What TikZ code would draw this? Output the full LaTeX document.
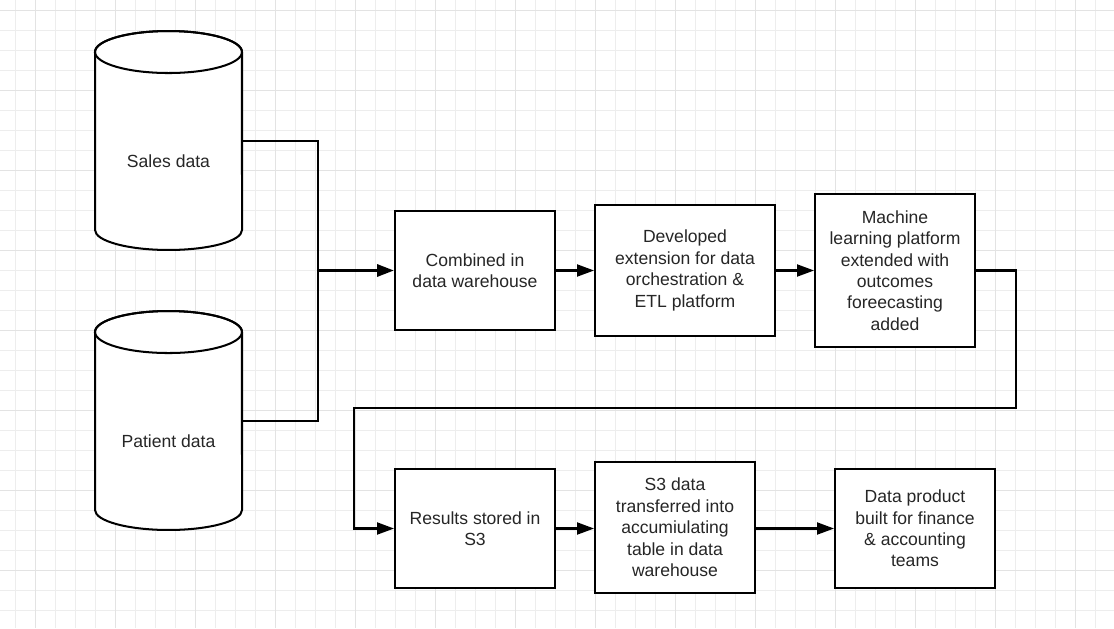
\documentclass[tikz,border=0pt]{standalone}
\usepackage{fontspec}
\setmainfont{Liberation Sans}
\usepackage{tikz}
\usetikzlibrary{arrows.meta,calc}

\tikzset{
  gridminor/.style={black!7, line width=0.5pt},
  gridmajor/.style={black!11, line width=0.5pt},
  edge/.style={line width=1.15pt, black},
  flow/.style={edge, -{Triangle[length=0.34cm,width=0.24cm]}},
  stage/.style={draw, line width=1.15pt, fill=white, align=center, inner sep=0pt,
    font=\fontsize{10}{12.2}\selectfont, text=black!85},
  dbbody/.style={minimum width=2.94cm, minimum height=3.56cm, inner sep=0pt, outer sep=0pt},
  dbtext/.style={font=\fontsize{10}{12.2}\selectfont, text=black!85},
}

\begin{document}
\begin{tikzpicture}[x=0.02cm, y=-0.02cm]
\useasboundingbox (0,0) rectangle (1114,628);
\fill[white] (0,0) rectangle (1114,628);
% background grid
\foreach \gx in {15,35,...,1114} \draw[gridminor] (\gx,0) -- (\gx,628);
\foreach \gy in {10,30,...,628} \draw[gridminor] (0,\gy) -- (1114,\gy);
\foreach \gx in {35,115,...,1114} \draw[gridmajor] (\gx,0) -- (\gx,628);
\foreach \gy in {10,90,...,628} \draw[gridmajor] (0,\gy) -- (1114,\gy);

% data sources
\node[dbbody] (sales) at (168.5,141) {};
\draw[edge, fill=white] (sales.north west) -- (sales.south west)
  arc[start angle=180, end angle=0, x radius=73.5, y radius=20] -- (sales.north east)
  arc[start angle=0, end angle=-180, x radius=73.5, y radius=21] -- cycle;
\draw[edge] (sales.north) ellipse[x radius=73.5, y radius=21];
\node[dbtext] (salestxt) at (168.5,161) {Sales data};

\node[dbbody] (patient) at (168.5,421) {};
\draw[edge, fill=white] (patient.north west) -- (patient.south west)
  arc[start angle=180, end angle=0, x radius=73.5, y radius=20] -- (patient.north east)
  arc[start angle=0, end angle=-180, x radius=73.5, y radius=21] -- cycle;
\draw[edge] (patient.north) ellipse[x radius=73.5, y radius=21];
\node[dbtext] (patienttxt) at (168.5,441) {Patient data};

% top row
\node[stage, minimum width=3.2cm, minimum height=2.38cm] (combine) at (475,270.5)
  {Combined in\\data warehouse};
\node[stage, minimum width=3.6cm, minimum height=2.62cm] (orchestr) at (685,270.5)
  {Developed\\extension for data\\orchestration \&\\ETL platform};
\node[stage, minimum width=3.2cm, minimum height=3.06cm] (mlplat) at (895,270.5)
  {Machine\\learning platform\\extended with\\outcomes\\foreecasting\\added};

% bottom row
\node[stage, minimum width=3.2cm, minimum height=2.38cm] (results) at (475,528.5)
  {Results stored in\\S3};
\node[stage, minimum width=3.2cm, minimum height=2.62cm] (transfer) at (675,527.5)
  {S3 data\\transferred into\\accumiulating\\table in data\\warehouse};
\node[stage, minimum width=3.2cm, minimum height=2.38cm] (product) at (915,528.5)
  {Data product\\built for finance\\\& accounting\\teams};

% connectors
\coordinate (merge) at (318,270.5);
\draw[edge] (sales.east) -| (merge);
\draw[edge] (patient.east) -| (merge);
\draw[flow, line width=1.8pt] (merge) -- (combine.west);
\draw[flow] (combine) -- (orchestr);
\draw[flow] (orchestr) -- (mlplat);
\coordinate (turnA) at (1016,408);
\coordinate (turnB) at (354,408);
\draw[flow] (mlplat.east) -| (turnA) -- (turnB) |- (results.west);
\draw[flow] (results.east) -- (results.east -| transfer.west);
\draw[flow] (transfer.east |- product.west) -- (product.west);
\end{tikzpicture}
\end{document}
